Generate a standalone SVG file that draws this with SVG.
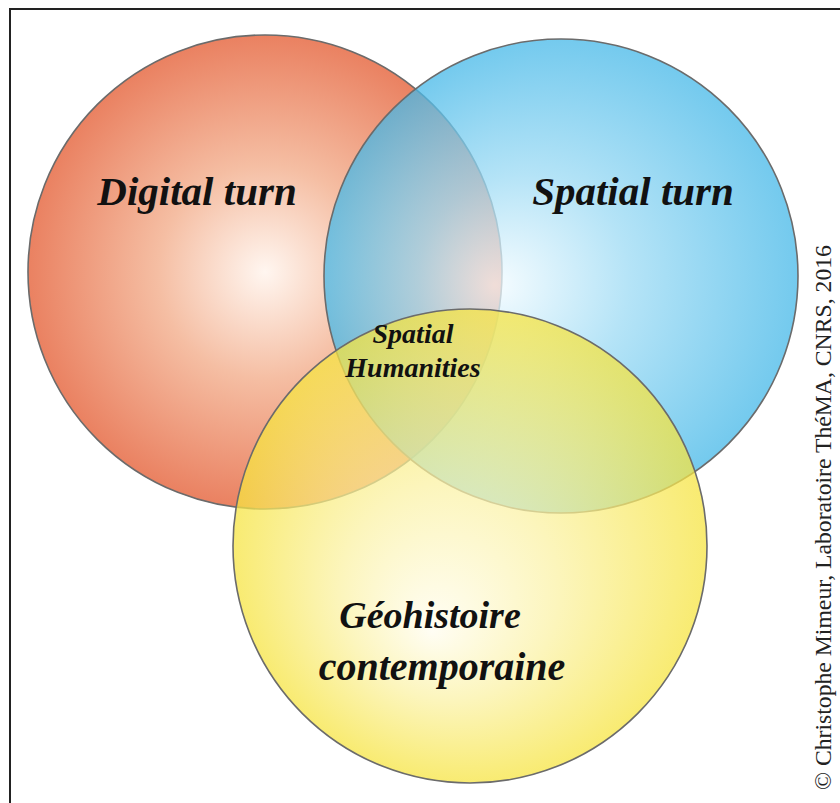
<svg xmlns="http://www.w3.org/2000/svg" width="840" height="803" viewBox="0 0 840 803">
<style>
.c{stroke:#6b6b6b;stroke-width:1.6}
.t{font-family:"Liberation Serif","Times New Roman",serif;font-weight:bold;font-style:italic;fill:#111;text-anchor:middle}
.cr{font-family:"Liberation Serif","Times New Roman",serif;fill:#222}
</style>
<defs>
<radialGradient id="gr" cx="0.5" cy="0.5" r="0.5" fx="0.5" fy="0.5">
<stop offset="0" stop-color="#fff6f0"/>
<stop offset="0.45" stop-color="#f5bea3"/>
<stop offset="1" stop-color="#ea8161"/>
</radialGradient>
<radialGradient id="gb" cx="0.5" cy="0.5" r="0.5" fx="0.36" fy="0.52">
<stop offset="0" stop-color="#f2fbff"/>
<stop offset="0.45" stop-color="#9bdaf4"/>
<stop offset="1" stop-color="#45b8e8"/>
</radialGradient>
<radialGradient id="gy" cx="0.5" cy="0.5" r="0.5" fx="0.42" fy="0.68">
<stop offset="0" stop-color="#fffdf0"/>
<stop offset="0.45" stop-color="#fbf2a6"/>
<stop offset="1" stop-color="#f6e440"/>
</radialGradient>
</defs>
<rect x="10" y="9" width="900" height="900" fill="#fff" stroke="#222" stroke-width="2"/>
<g id="digital-turn">
<circle class="c" cx="265" cy="272" r="237" fill="url(#gr)"/>
</g>
<g id="spatial-turn">
<circle class="c" cx="561" cy="276" r="237" fill="url(#gb)" fill-opacity="0.75"/>
</g>
<g id="geohistoire">
<circle class="c" cx="470" cy="546" r="237" fill="url(#gy)" fill-opacity="0.74"/>
</g>
<g id="labels">
<text class="t" x="197" y="205" font-size="41">Digital turn</text>
<text class="t" x="633" y="205" font-size="41">Spatial turn</text>
<text class="t" x="413" y="343" font-size="28">Spatial</text>
<text class="t" x="413" y="377" font-size="28">Humanities</text>
<text class="t" x="430" y="628" font-size="38">Géohistoire</text>
<text class="t" x="442" y="680" font-size="40">contemporaine</text>
</g>
<g id="connectors"/>
<text class="cr" transform="translate(831,790) rotate(-90)" font-size="23.7">© Christophe Mimeur, Laboratoire ThéMA, CNRS, 2016</text>
</svg>
